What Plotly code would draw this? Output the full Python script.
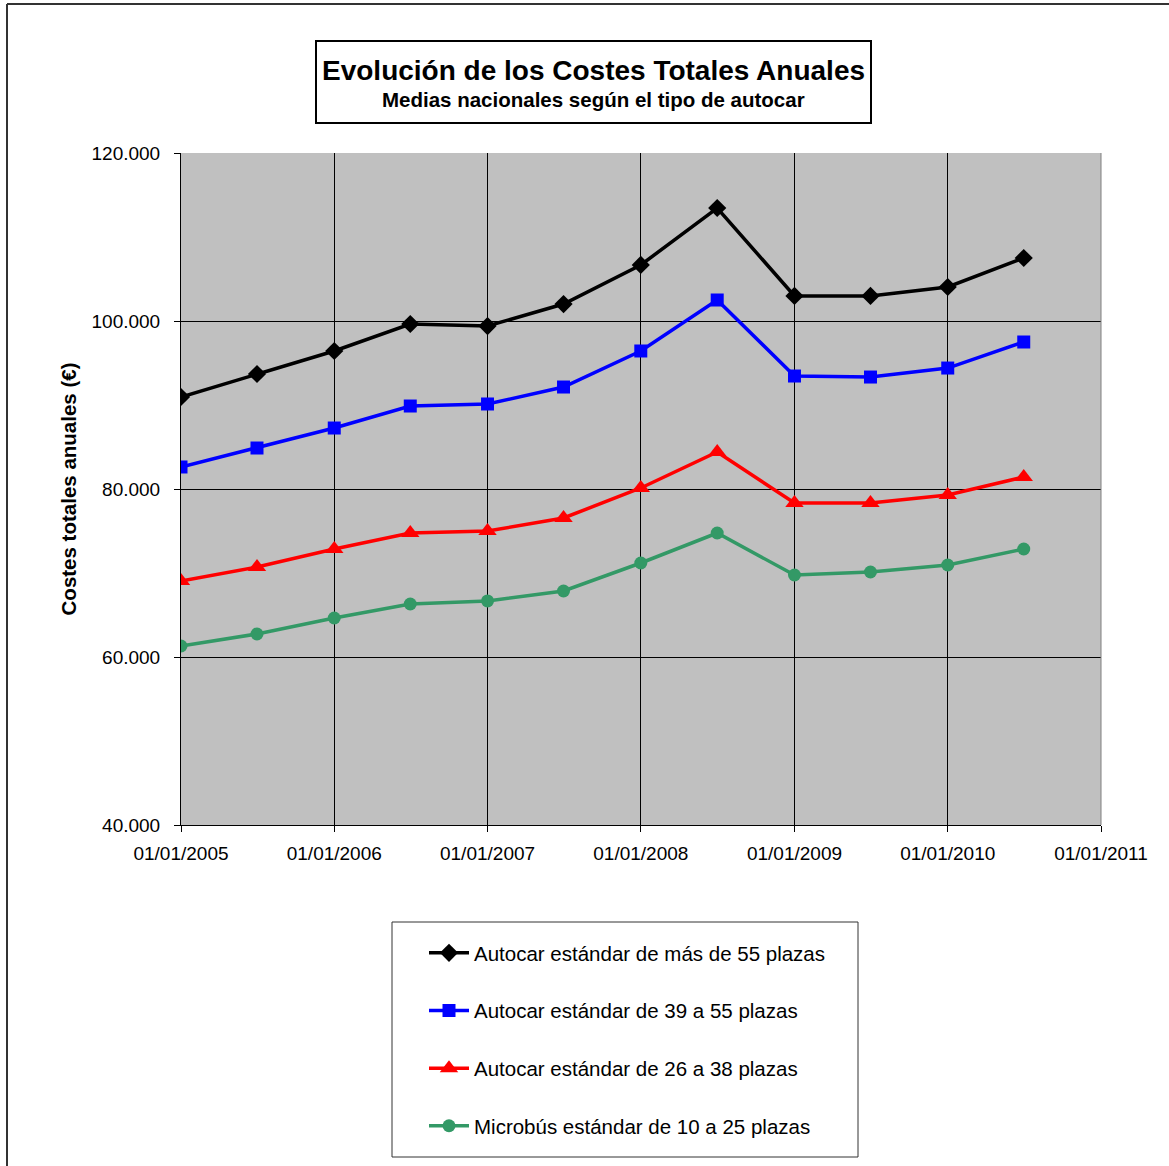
import plotly.graph_objects as go

dates = ["2005-01-01", "2005-07-01", "2006-01-01", "2006-07-01", "2007-01-01", "2007-07-01",
         "2008-01-01", "2008-07-01", "2009-01-01", "2009-07-01", "2010-01-01", "2010-07-01"]

mas55 = [90950, 93690, 96430, 99640, 99400, 102020, 106670, 113450, 102980, 102980, 104050, 107500]
de39a55 = [82620, 84880, 87260, 89880, 90120, 92140, 96430, 102500, 93450, 93330, 94400, 97500]
de26a38 = [69050, 70710, 72860, 74760, 75000, 76550, 80120, 84400, 78330, 78330, 79290, 81430]
micro10a25 = [61310, 62740, 64640, 66310, 66670, 67860, 71190, 74760, 69760, 70120, 70950, 72860]

names = ["Autocar estándar de más de 55 plazas",
         "Autocar estándar de 39 a 55 plazas",
         "Autocar estándar de 26 a 38 plazas",
         "Microbús estándar de 10 a 25 plazas"]

tick_vals = ["2005-01-01", "2006-01-01", "2007-01-01", "2008-01-01", "2009-01-01", "2010-01-01", "2011-01-01"]
tick_text = ["01/01/2005", "01/01/2006", "01/01/2007", "01/01/2008", "01/01/2009", "01/01/2010", "01/01/2011"]

series = [mas55, de39a55, de26a38, micro10a25]
colors = ["#000000", "#0000FF", "#FF0000", "#339966"]
symbols = ["diamond", "square", "triangle-up", "circle"]
sizes = [14, 13, 16, 13]

fig = go.Figure()
for i, (vals, name, c, s, sz) in enumerate(zip(series, names, colors, symbols, sizes)):
    fig.add_trace(go.Scatter(
        x=dates, y=vals, name=name, mode="lines+markers",
        line=dict(color=c, width=3.5),
        marker=dict(symbol=s, size=sz, color=c),
        legendgroup=f"g{i}",
    ))

W, H = 1169, 1166
L, R, T, B = 181, 1101, 153, 825
pw, ph = R - L, B - T

def px(xp):
    return (xp - L) / pw

def py(yp):
    return (B - yp) / ph

fig.update_layout(
    width=W, height=H,
    margin=dict(l=L, r=W - R, t=T, b=H - B),
    paper_bgcolor="white",
    plot_bgcolor="#C0C0C0",
    separators=",.",
    font=dict(family="Liberation Sans, Arial, sans-serif", color="black", size=19),
    showlegend=True,
    legend=dict(
        x=px(424), y=py(933), xanchor="left", yanchor="top",
        borderwidth=0, bgcolor="rgba(0,0,0,0)",
        font=dict(size=20.5), tracegroupgap=28, traceorder="grouped",
        itemwidth=40,
    ),
)

fig.update_xaxes(
    type="date", range=["2005-01-01", "2011-01-01"],
    tickvals=tick_vals, ticktext=tick_text,
    showgrid=True, gridcolor="black", gridwidth=1,
    ticks="outside", ticklen=6, tickcolor="black",
    showline=True, linecolor="black", linewidth=1,
    tickfont=dict(size=19), zeroline=False, ticklabelstandoff=5,
)
fig.update_yaxes(
    range=[40000, 120000], dtick=20000, tickformat=",.0f",
    showgrid=True, gridcolor="black", gridwidth=1,
    ticks="outside", ticklen=6, tickcolor="black",
    showline=True, linecolor="black", linewidth=1,
    tickfont=dict(size=19), zeroline=False, ticklabelstandoff=10,
    title=dict(text="<b>Costes totales anuales (€)</b>", font=dict(size=20.5), standoff=9),
)

# right border of plot area
fig.add_shape(type="line", xref="paper", yref="paper", x0=1, x1=1, y0=0, y1=1,
              line=dict(color="#808080", width=1))

# outer chart border (left and top)
fig.add_shape(type="line", xref="paper", yref="paper",
              x0=px(7), x1=px(7), y0=py(4), y1=py(H + 5),
              line=dict(color="#333333", width=2))
fig.add_shape(type="line", xref="paper", yref="paper",
              x0=px(7), x1=px(W + 5), y0=py(4), y1=py(4),
              line=dict(color="#333333", width=2))

# legend frame
fig.add_shape(type="rect", xref="paper", yref="paper",
              x0=px(392), x1=px(858), y0=py(1157), y1=py(922),
              line=dict(color="#333333", width=1), fillcolor="rgba(0,0,0,0)")

# title box
fig.add_shape(type="rect", xref="paper", yref="paper",
              x0=px(316), x1=px(871), y0=py(123), y1=py(41),
              line=dict(color="black", width=2), fillcolor="white", layer="above")
fig.add_annotation(
    xref="paper", yref="paper", x=px(593.5), y=py(70), showarrow=False,
    text="<b>Evolución de los Costes Totales Anuales</b>",
    font=dict(size=28, color="black"), xanchor="center", yanchor="middle",
)
fig.add_annotation(
    xref="paper", yref="paper", x=px(593.5), y=py(100), showarrow=False,
    text="<b>Medias nacionales según el tipo de autocar</b>",
    font=dict(size=20.5, color="black"), xanchor="center", yanchor="middle",
)

fig.write_html("out.html", config={"displayModeBar": False},
               post_script="document.body.style.margin='0px';")
